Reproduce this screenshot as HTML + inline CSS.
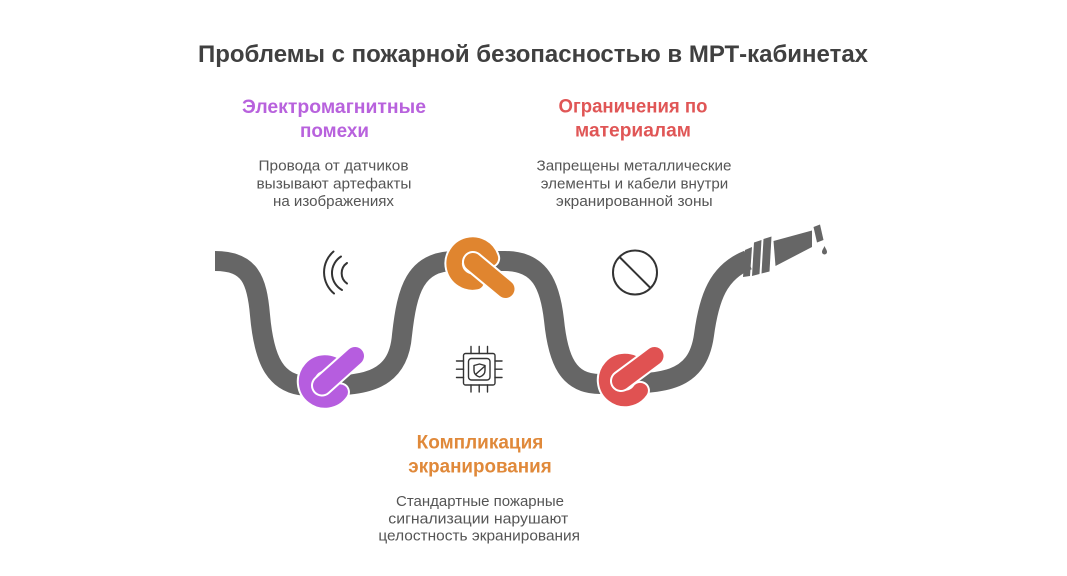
<!DOCTYPE html>
<html>
<head>
<meta charset="utf-8">
<style>
  html, body { margin: 0; padding: 0; background: #ffffff; }
  body { width: 1067px; height: 576px; overflow: hidden; }
  svg { display: block; }
  text { font-family: "Liberation Sans", "DejaVu Sans", sans-serif; }
</style>
</head>
<body>
<svg width="1067" height="576" viewBox="0 0 1067 576" xmlns="http://www.w3.org/2000/svg">
  <rect width="1067" height="576" fill="#ffffff"/>

  <!-- Title -->
  <text x="533" y="62" text-anchor="middle" font-size="24" font-weight="bold" fill="#404040" textLength="670" lengthAdjust="spacingAndGlyphs">Проблемы с пожарной безопасностью в МРТ-кабинетах</text>

  <!-- Purple heading -->
  <text x="334" y="113" text-anchor="middle" font-size="19" font-weight="bold" fill="#b862dd" textLength="184" lengthAdjust="spacingAndGlyphs">Электромагнитные</text>
  <text x="334.5" y="137" text-anchor="middle" font-size="19" font-weight="bold" fill="#b862dd" textLength="69" lengthAdjust="spacingAndGlyphs">помехи</text>
  <text x="333.5" y="170.5" text-anchor="middle" font-size="15" fill="#555555" textLength="150" lengthAdjust="spacingAndGlyphs">Провода от датчиков</text>
  <text x="334" y="188.3" text-anchor="middle" font-size="15" fill="#555555" textLength="155" lengthAdjust="spacingAndGlyphs">вызывают артефакты</text>
  <text x="333.5" y="206" text-anchor="middle" font-size="15" fill="#555555" textLength="121" lengthAdjust="spacingAndGlyphs">на изображениях</text>

  <!-- Red heading -->
  <text x="633" y="112.7" text-anchor="middle" font-size="19" font-weight="bold" fill="#e05656" textLength="149" lengthAdjust="spacingAndGlyphs">Ограничения по</text>
  <text x="633" y="136.7" text-anchor="middle" font-size="19" font-weight="bold" fill="#e05656" textLength="116" lengthAdjust="spacingAndGlyphs">материалам</text>
  <text x="634" y="170.3" text-anchor="middle" font-size="15" fill="#555555" textLength="195" lengthAdjust="spacingAndGlyphs">Запрещены металлические</text>
  <text x="634.5" y="188.3" text-anchor="middle" font-size="15" fill="#555555" textLength="187.5" lengthAdjust="spacingAndGlyphs">элементы и кабели внутри</text>
  <text x="634.3" y="206" text-anchor="middle" font-size="15" fill="#555555" textLength="156.7" lengthAdjust="spacingAndGlyphs">экранированной зоны</text>

  <!-- Orange heading -->
  <text x="480" y="448.3" text-anchor="middle" font-size="19" font-weight="bold" fill="#e0893a" textLength="126.7" lengthAdjust="spacingAndGlyphs">Компликация</text>
  <text x="480" y="472.5" text-anchor="middle" font-size="19" font-weight="bold" fill="#e0893a" textLength="143.4" lengthAdjust="spacingAndGlyphs">экранирования</text>
  <text x="480" y="506" text-anchor="middle" font-size="15" fill="#555555" textLength="168" lengthAdjust="spacingAndGlyphs">Стандартные пожарные</text>
  <text x="478.3" y="523.3" text-anchor="middle" font-size="15" fill="#555555" textLength="180" lengthAdjust="spacingAndGlyphs">сигнализации нарушают</text>
  <text x="479.2" y="540.3" text-anchor="middle" font-size="15" fill="#555555" textLength="201.7" lengthAdjust="spacingAndGlyphs">целостность экранирования</text>

  <!-- Hose -->
  <path d="M 215 261 C 250 261, 257 280, 260 315 C 264 360, 275 386, 310 386
           C 360 386, 398 385, 402 335 C 407 290, 415 261, 455 261
           L 505 261 C 540 261, 550 285, 554 320 C 558 360, 568 384, 600 384
           C 660 384, 697 385, 704 335 C 709 298, 718 272, 748 260"
        fill="none" stroke="#666666" stroke-width="20" stroke-linecap="butt" stroke-linejoin="round"/>

  <!-- Nozzle -->
  <g fill="#666666">
    <polygon points="745,250 752,247 750,276 743,277"/>
    <polygon points="754,242.5 761.5,240 759.5,274 752,276"/>
    <polygon points="763.5,239 771.5,236.5 769.5,271.5 761.5,273.5"/>
    <polygon points="773.5,241 812,230.5 812,247 775.5,266"/>
    <polygon points="813.5,227 820,224.5 823.5,240 817,242.5"/>
    <path d="M 824.5 246 C 825.5 248.5 827 250 827 252 A 2.5 2.5 0 0 1 822 252 C 822 250 823.5 248.5 824.5 246 Z"/>
  </g>

  <!-- Purple knot -->
  <g fill="none" stroke-linecap="round">
    <path d="M 338.1 368.4 A 18.5 18.5 0 1 0 340.2 392.1" stroke="#ffffff" stroke-width="19.5"/>
    <path d="M 338.1 368.4 A 18.5 18.5 0 1 0 340.2 392.1" stroke="#b65ddf" stroke-width="15.5"/>
    <line x1="322" y1="385.5" x2="355" y2="356" stroke="#ffffff" stroke-width="22"/>
    <line x1="322" y1="385.5" x2="355" y2="356" stroke="#b65ddf" stroke-width="18"/>
  </g>

  <!-- Orange knot -->
  <g fill="none" stroke-linecap="round">
    <path d="M 490.4 258.3 A 18.5 18.5 0 1 0 476.2 281.7" stroke="#ffffff" stroke-width="19.5"/>
    <path d="M 490.4 258.3 A 18.5 18.5 0 1 0 476.2 281.7" stroke="#e0852f" stroke-width="15.5"/>
    <line x1="473" y1="262" x2="505.5" y2="289" stroke="#ffffff" stroke-width="22"/>
    <line x1="473" y1="262" x2="505.5" y2="289" stroke="#e0852f" stroke-width="18"/>
  </g>

  <!-- Red knot -->
  <g fill="none" stroke-linecap="round">
    <path d="M 638.1 366.9 A 18.5 18.5 0 1 0 640.2 390.6" stroke="#ffffff" stroke-width="19.5"/>
    <path d="M 638.1 366.9 A 18.5 18.5 0 1 0 640.2 390.6" stroke="#e05252" stroke-width="15.5"/>
    <line x1="621" y1="381" x2="654.5" y2="356" stroke="#ffffff" stroke-width="22"/>
    <line x1="621" y1="381" x2="654.5" y2="356" stroke="#e05252" stroke-width="18"/>
  </g>

  <!-- Wave icon -->
  <g fill="none" stroke="#333333" stroke-width="2" stroke-linecap="round">
    <path d="M 333.5 251.5 A 27.6 27.6 0 0 0 334 293.5"/>
    <path d="M 341 256.5 A 19.5 19.5 0 0 0 342 290"/>
    <path d="M 347 263 A 12.5 12.5 0 0 0 347 283.5"/>
  </g>

  <!-- Prohibited icon -->
  <g fill="none" stroke="#333333" stroke-width="2">
    <circle cx="635" cy="272.5" r="22"/>
    <line x1="619.5" y1="257" x2="650.5" y2="288"/>
  </g>

  <!-- Chip icon -->
  <g fill="none" stroke="#333333" stroke-width="1.4" stroke-linecap="round" stroke-linejoin="round">
    <rect x="463.5" y="353.5" width="31.5" height="31.5" rx="2"/>
    <rect x="468.5" y="358.5" width="21.5" height="21.5" rx="3"/>
    <line x1="471" y1="346.5" x2="471" y2="353.5"/>
    <line x1="479.2" y1="346.5" x2="479.2" y2="353.5"/>
    <line x1="487.5" y1="346.5" x2="487.5" y2="353.5"/>
    <line x1="471" y1="385" x2="471" y2="392"/>
    <line x1="479.2" y1="385" x2="479.2" y2="392"/>
    <line x1="487.5" y1="385" x2="487.5" y2="392"/>
    <line x1="456.5" y1="361" x2="463.5" y2="361"/>
    <line x1="456.5" y1="369.2" x2="463.5" y2="369.2"/>
    <line x1="456.5" y1="377.5" x2="463.5" y2="377.5"/>
    <line x1="495" y1="361" x2="502" y2="361"/>
    <line x1="495" y1="369.2" x2="502" y2="369.2"/>
    <line x1="495" y1="377.5" x2="502" y2="377.5"/>
    <path d="M 474 365.5 L 479.5 364 L 485 365.5 L 485 370.5 Q 485 375 479.5 377 Q 474 375 474 370.5 Z"/>
    <line x1="476" y1="374" x2="485" y2="366"/>
  </g>
</svg>
</body>
</html>
